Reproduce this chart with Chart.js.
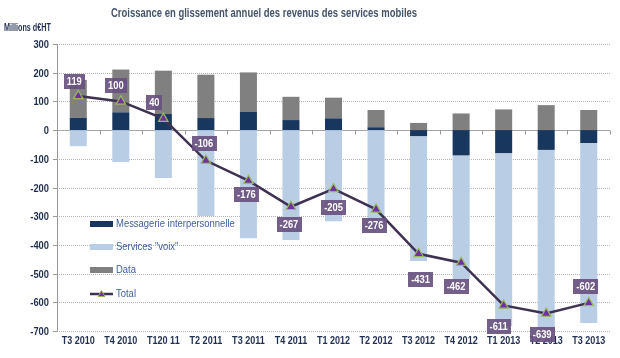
<!DOCTYPE html>
<html>
<head>
<meta charset="utf-8">
<script src="https://cdn.jsdelivr.net/npm/chart.js@4.4.1/dist/chart.umd.min.js"></script>
<style>
  html, body { margin: 0; padding: 0; background: #fff; }
  #wrap { width: 620px; height: 358px; position: relative; }
</style>
</head>
<body>
<div id="wrap"><canvas id="chart" width="620" height="358"></canvas></div>
<script>
var categories = ['T3 2010', 'T4 2010', 'T120 11', 'T2 2011', 'T3 2011', 'T4 2011', 'T1 2012',
                  'T2 2012', 'T3 2012', 'T4 2012', 'T1 2013', 'T2 2013', 'T3 2013'];
var messagerie = [43, 62, 56, 42, 63, 35, 41, 10, -21, -88, -80, -69, -45];
var voix = [-56, -111, -167, -299, -377, -383, -318, -346, -435, -432, -603, -657, -627];
var data = [132, 149, 151, 151, 138, 81, 72, 60, 25, 58, 72, 87, 70];
var total = [119, 100, 40, -106, -176, -267, -205, -276, -431, -462, -611, -639, -602];

// where each total label sits relative to its point (px)
var labelOffsets = [[-4, -14], [-5, -16], [-9, -16], [-2, -17], [-2, 14], [-2, 18], [0, 19],
                    [-2, 16], [2, 26], [-5, 24], [-5, 21], [-4, 21], [-3, -16]];

var FONT = '"Liberation Sans", Arial, sans-serif';

// condensed text: squeeze horizontally around the anchor
function squeezed(c, txt, x, y, align, sx) {
    c.save();
    c.translate(x, y);
    c.scale(sx, 1);
    c.textAlign = align;
    c.fillText(txt, 0, 0);
    c.restore();
}

var extras = {
    id: 'extras',
    beforeDatasetsDraw: function (chart) {
        var c = chart.ctx, y = chart.scales.y, x = chart.scales.x, a = chart.chartArea;
        c.save();
        y.ticks.forEach(function (t) {
            var py = Math.round(y.getPixelForValue(t.value)) + 0.5;
            c.beginPath();
            c.strokeStyle = t.value === 0 ? '#a6a6a6' : '#b4b4b4';
            c.lineWidth = 1;
            c.setLineDash(t.value === 0 ? [] : [1, 1]);
            c.moveTo(a.left, py);
            c.lineTo(a.right, py);
            c.stroke();
            c.setLineDash([]);
            c.beginPath();
            c.strokeStyle = '#999';
            c.moveTo(a.left - 4, py);
            c.lineTo(a.left, py);
            c.stroke();
            c.fillStyle = '#1f2f4f';
            c.font = 'bold 11px ' + FONT;
            c.textBaseline = 'middle';
            squeezed(c, String(t.value), 49, py, 'right', 0.85);
        });
        // category ticks on the zero line + labels below the plot
        var zy = Math.round(y.getPixelForValue(0)) + 0.5;
        for (var i = 0; i <= categories.length; i++) {
            var px = Math.round(x.getPixelForValue(i - 0.5)) + 0.5;
            c.beginPath();
            c.strokeStyle = '#999';
            c.moveTo(px, zy);
            c.lineTo(px, zy + 4);
            c.stroke();
        }
        c.fillStyle = '#1f2f4f';
        c.font = 'bold 11px ' + FONT;
        c.textBaseline = 'middle';
        categories.forEach(function (lab, i) {
            squeezed(c, lab, x.getPixelForValue(i), a.bottom + 10, 'center', 0.82);
        });
        c.beginPath();
        c.strokeStyle = '#999';
        c.moveTo(a.left + 0.5, a.top);
        c.lineTo(a.left + 0.5, a.bottom);
        c.stroke();
        c.restore();
    },
    afterDatasetsDraw: function (chart) {
        var c = chart.ctx;
        var meta = chart.getDatasetMeta(3);
        c.save();
        c.font = 'bold 11px ' + FONT;
        c.textBaseline = 'middle';
        meta.data.forEach(function (p, i) {
            var cx = p.x + labelOffsets[i][0], cy = p.y + labelOffsets[i][1];
            var txt = String(total[i]);
            var w = c.measureText(txt).width * 0.85 + 6, h = 15;
            c.fillStyle = 'rgba(104, 80, 128, 0.92)';
            c.fillRect(Math.round(cx - w / 2), Math.round(cy - h / 2), Math.round(w), h);
            c.fillStyle = '#fff';
            squeezed(c, txt, cx, cy + 0.5, 'center', 0.85);
        });
        // title and unit
        c.font = 'bold 12px ' + FONT;
        c.fillStyle = '#44546a';
        squeezed(c, 'Croissance en glissement annuel des revenus des services mobiles', 264, 14, 'center', 0.79);
        c.font = 'bold 10px ' + FONT;
        c.fillStyle = '#1f3050';
        squeezed(c, 'Millions d\u20acHT', 4, 28, 'left', 0.72);
        // legend
        var items = chart.data.datasets;
        var ly = [224, 247, 270, 294];
        c.font = '11px ' + FONT;
        [0, 1, 2, 3].forEach(function (k, j) {
            var ds = items[k];
            if (ds.type === 'line') {
                c.strokeStyle = ds.borderColor;
                c.lineWidth = 2.5;
                c.beginPath();
                c.moveTo(90, ly[j]);
                c.lineTo(113, ly[j]);
                c.stroke();
                c.beginPath();
                c.moveTo(101.5, ly[j] - 3.5);
                c.lineTo(105, ly[j] + 2.5);
                c.lineTo(98, ly[j] + 2.5);
                c.closePath();
                c.fillStyle = ds.backgroundColor;
                c.strokeStyle = ds.pointBorderColor;
                c.lineWidth = 1;
                c.fill();
                c.stroke();
            } else {
                c.fillStyle = ds.backgroundColor;
                c.fillRect(90, ly[j] - 3, 23, 6);
            }
            c.fillStyle = '#3f5f9f';
            c.textBaseline = 'middle';
            squeezed(c, ds.label, 116, ly[j], 'left', 0.86);
        });
        c.restore();
    }
};

var barStyle = { barPercentage: 0.8, categoryPercentage: 0.5, borderWidth: 0, stack: 'bars', order: 1 };

new Chart(document.getElementById('chart').getContext('2d'), {
    type: 'bar',
    data: {
        labels: categories,
        datasets: [
            Object.assign({ label: 'Messagerie interpersonnelle', data: messagerie, backgroundColor: '#17375e' }, barStyle),
            Object.assign({ label: 'Services "voix"', data: voix, backgroundColor: '#b9cde5' }, barStyle),
            Object.assign({ label: 'Data', data: data, backgroundColor: '#808080' }, barStyle),
            {
                type: 'line', label: 'Total', data: total, stack: 'total', order: 0,
                borderColor: '#3f3151', borderWidth: 2.5, backgroundColor: '#7030a0',
                pointStyle: 'triangle', pointRadius: 5.5, pointBorderColor: '#9bbb59',
                pointBorderWidth: 1.2, pointBackgroundColor: '#7030a0', tension: 0
            }
        ]
    },
    options: {
        responsive: false,
        animation: false,
        layout: { padding: { top: 44, right: 10, left: 0, bottom: 0 } },
        plugins: { legend: { display: false }, tooltip: { enabled: false }, title: { display: false } },
        scales: {
            x: {
                stacked: true,
                grid: { display: false },
                border: { display: false },
                ticks: { display: false },
                afterFit: function (s) { s.height = 27; }
            },
            y: {
                stacked: true,
                min: -700, max: 300,
                grid: { display: false },
                border: { display: false },
                ticks: { stepSize: 100, display: false },
                afterFit: function (s) { s.width = 57; }
            }
        }
    },
    plugins: [extras]
});
</script>
</body>
</html>
